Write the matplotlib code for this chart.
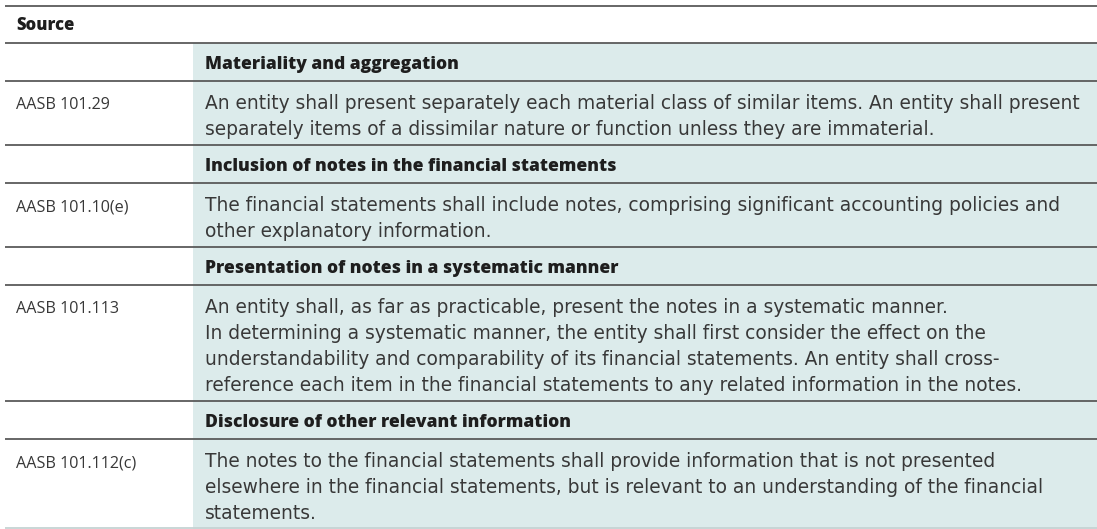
import matplotlib
matplotlib.use("Agg")
import matplotlib.pyplot as plt
from matplotlib.patches import Rectangle

header_label = "Source"
sources = ["AASB 101.29", "AASB 101.10(e)", "AASB 101.113", "AASB 101.112(c)"]
headings = [
    "Materiality and aggregation",
    "Inclusion of notes in the financial statements",
    "Presentation of notes in a systematic manner",
    "Disclosure of other relevant information",
]
bodies = [
    ["An entity shall present separately each material class of similar items. An entity shall present",
     "separately items of a dissimilar nature or function unless they are immaterial."],
    ["The financial statements shall include notes, comprising significant accounting policies and",
     "other explanatory information."],
    ["An entity shall, as far as practicable, present the notes in a systematic manner.",
     "In determining a systematic manner, the entity shall first consider the effect on the",
     "understandability and comparability of its financial statements. An entity shall cross-",
     "reference each item in the financial statements to any related information in the notes."],
    ["The notes to the financial statements shall provide information that is not presented",
     "elsewhere in the financial statements, but is relevant to an understanding of the financial",
     "statements."],
]

W, H = 1097, 529
FONT = "Open Sans"
BODY_FONT = "DejaVu Sans"
BODY_SIZE = 13.45
SRC_SIZE = 11.6
HEAD_SIZE = 12.6
HDR_SIZE = 12.0
SHADE = "#dcebeb"
LINE = "#5a5a5a"
TEXT = "#383838"
BOLD_TEXT = "#1e1e1e"

fig = plt.figure(figsize=(W / 100, H / 100), dpi=100)
ax = fig.add_axes([0, 0, 1, 1])
ax.set_xlim(0, W)
ax.set_ylim(H, 0)
ax.axis("off")

x_line0 = 5
x_split = 193
x_left_text = 16
x_right_text = 205
top = 6
header_h = 37
heading_h = 38
base_off = 28
head_base = 26
spacing = 26
pad = 12

y = top
ax.plot([x_line0, W], [y, y], color=LINE, lw=1.3, solid_capstyle="butt")
ax.text(x_left_text, y + 24, header_label, fontsize=HDR_SIZE, family=FONT,
        weight="heavy", color=BOLD_TEXT, va="baseline", ha="left")
y += header_h

for src, head, body in zip(sources, headings, bodies):
    ax.add_patch(Rectangle((x_split, y), W - x_split, heading_h, color=SHADE, lw=0, zorder=0))
    ax.plot([x_line0, W], [y, y], color=LINE, lw=1.3, solid_capstyle="butt", zorder=2)
    ax.text(x_right_text, y + head_base, head, fontsize=HEAD_SIZE, family=FONT,
            weight="heavy", color=BOLD_TEXT, va="baseline", ha="left")
    y += heading_h
    n = len(body)
    h = pad + spacing * n
    ax.add_patch(Rectangle((x_split, y), W - x_split, h, color=SHADE, lw=0, zorder=0))
    ax.plot([x_line0, W], [y, y], color=LINE, lw=1.3, solid_capstyle="butt", zorder=2)
    ax.text(x_left_text, y + base_off, src, fontsize=SRC_SIZE, family=FONT,
            color=TEXT, va="baseline", ha="left")
    for i, line in enumerate(body):
        ax.text(x_right_text, y + base_off + spacing * i, line, fontsize=BODY_SIZE,
                family=BODY_FONT, color=TEXT, va="baseline", ha="left")
    y += h

ax.plot([x_line0, W], [y - 0.7, y - 0.7], color="#c5d3d3", lw=1.3, solid_capstyle="butt", zorder=2)

fig.savefig("out.png", dpi=100)
